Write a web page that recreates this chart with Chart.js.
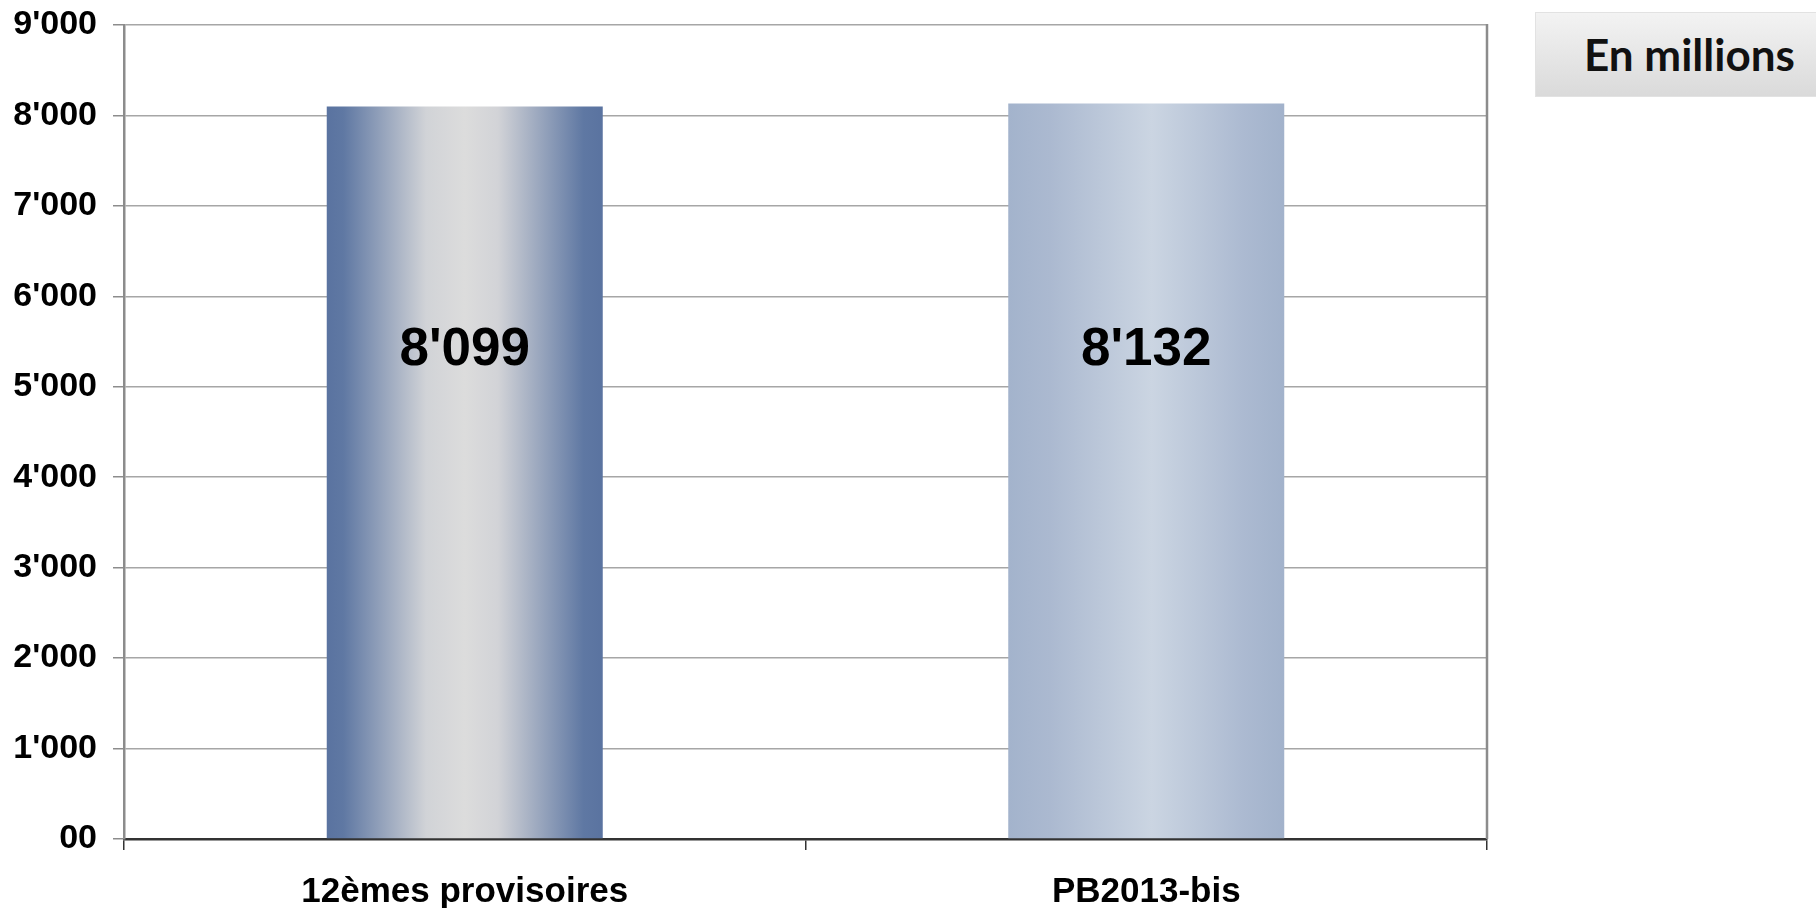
<!DOCTYPE html>
<html>
<head>
<meta charset="utf-8">
<script src="https://cdn.jsdelivr.net/npm/chart.js@4"></script>
<style>
  html, body { margin: 0; padding: 0; background: #ffffff; }
  #wrap { position: relative; width: 1816px; height: 908px; }
  #unit {
    position: absolute; left: 1535px; top: 12px; width: 300px; height: 85px;
    box-sizing: border-box; border: 1px solid #e2e2e2;
    background: linear-gradient(to bottom, #f3f3f3, #dadada);
    font-family: Lato, "Open Sans", sans-serif; font-weight: 700; font-size: 44px;
    color: #111; line-height: 83px; padding-left: 48px; white-space: nowrap;
  }
</style>
</head>
<body>
<div id="wrap">
  <canvas id="c" width="1816" height="908"></canvas>
  <div id="unit">En millions</div>
</div>
<script>
// Budget totals (millions)
const categories = ["12èmes provisoires", "PB2013-bis"];
const values = [8099, 8132];
const valueLabels = ["8'099", "8'132"];
const yTickLabels = ["00", "1'000", "2'000", "3'000", "4'000", "5'000", "6'000", "7'000", "8'000", "9'000"];

// Horizontal "cylinder" shading for each bar
const barShades = [
  [[0, '#5a73a0'], [0.06, '#5f78a3'], [0.36, '#d1d3d7'], [0.5, '#dcdcdc'], [0.62, '#d2d3d7'], [0.93, '#5f78a3'], [1, '#5a73a0']],
  [[0, '#a3b3cc'], [0.15, '#abb9d0'], [0.52, '#cbd5e2'], [0.85, '#acbad1'], [1, '#a2b2cb']]
];
const BAR_PCT = 0.405;
// Height (in axis units) at which the value labels sit inside the bars
const LABEL_LEVEL = 5400;

function barFill(ctx) {
  const chart = ctx.chart;
  const xs = chart.scales.x;
  if (!xs || !chart.chartArea) return '#8899bb';
  const i = ctx.dataIndex;
  const cx = xs.getPixelForValue(i);
  const w = (xs.width / categories.length) * BAR_PCT;
  const g = chart.ctx.createLinearGradient(cx - w / 2, 0, cx + w / 2, 0);
  barShades[i].forEach(([p, c]) => g.addColorStop(p, c));
  return g;
}

// Right border of the plot frame and value labels inside bars
const framePlugin = {
  id: 'frame',
  afterDatasetsDraw(chart) {
    const { ctx, chartArea: a, scales } = chart;
    ctx.save();
    ctx.strokeStyle = '#8c8c8c';
    ctx.lineWidth = 2.5;
    ctx.beginPath();
    ctx.moveTo(a.right, a.top - 1);
    ctx.lineTo(a.right, a.bottom);
    ctx.stroke();
    ctx.font = 'bold 53px "Liberation Sans", Arial, sans-serif';
    ctx.fillStyle = '#000';
    ctx.textAlign = 'center';
    ctx.textBaseline = 'middle';
    const meta = chart.getDatasetMeta(0);
    meta.data.forEach((bar, i) => {
      ctx.fillText(valueLabels[i], bar.x, scales.y.getPixelForValue(LABEL_LEVEL));
    });
    ctx.restore();
  }
};

new Chart(document.getElementById('c'), {
  type: 'bar',
  data: {
    labels: categories,
    datasets: [{
      data: values,
      backgroundColor: barFill,
      borderWidth: 0,
      categoryPercentage: 1,
      barPercentage: BAR_PCT
    }]
  },
  options: {
    responsive: false,
    animation: false,
    devicePixelRatio: 1,
    layout: { padding: { top: 25, right: 329, left: 0, bottom: 0 } },
    plugins: { legend: { display: false }, tooltip: { enabled: false } },
    scales: {
      x: {
        offset: true,
        grid: { offset: true, drawOnChartArea: false, drawTicks: true, tickLength: 11, color: '#333', lineWidth: 1.5 },
        border: { display: true, color: '#333', width: 2.5 },
        ticks: {
          padding: 21,
          color: '#000',
          font: { family: '"Liberation Sans", Arial, sans-serif', size: 35, weight: 'bold' },
          maxRotation: 0
        },
        afterFit(s) { s.height = 69; }
      },
      y: {
        min: 0,
        max: 9000,
        grid: { color: '#a6a6a6', lineWidth: 1.5, tickLength: 11, tickColor: '#8c8c8c' },
        border: { display: true, color: '#8c8c8c', width: 2.5 },
        ticks: {
          stepSize: 1000,
          padding: 16,
          color: '#000',
          font: { family: '"Liberation Sans", Arial, sans-serif', size: 34, weight: 'bold' },
          callback: (v, i) => yTickLabels[i]
        },
        afterFit(s) {
          s.width = 124;
          s.paddingTop = 0;
          s.paddingBottom = 0;
        }
      }
    }
  },
  plugins: [framePlugin]
});
</script>
</body>
</html>
